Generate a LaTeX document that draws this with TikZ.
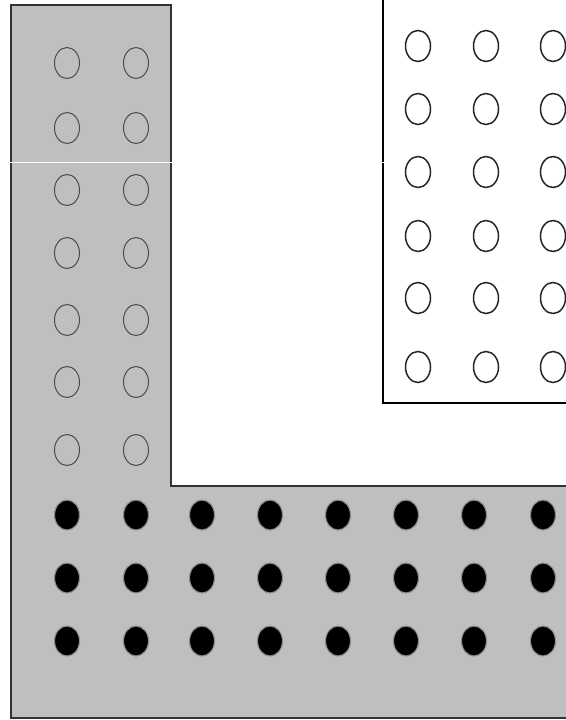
\documentclass[tikz,border=0pt]{standalone}
\begin{document}
\begin{tikzpicture}[x=1pt,y=-1pt,
  lring/.style={draw=black!70,line width=1pt},
  wring/.style={draw=black!85,line width=1.5pt},
  bdot/.style={fill=black,draw=black!45,line width=1.1pt}]
\useasboundingbox (0,0) rectangle (565,720);
\fill[white] (0,0) rectangle (565,720);
% gray L-shaped region
\draw[fill=black!25,draw=black!80,line width=1.3pt]
  (11,5) -- (171,5) -- (171,486) -- (580,486) -- (580,718) -- (11,718) -- cycle;
% white rectangle
\draw[fill=white,draw=black,line width=1.3pt]
  (383,-10) -- (383,403) -- (580,403);
% faint white seam
\draw[white,line width=0.8pt] (0,162) -- (565,162);
% light rings in the gray column
\foreach \y in {63,128,190,253,320,382,450}
  \foreach \x in {67,136}
    \draw[lring] (\x,\y) ellipse [x radius=12.5, y radius=15.5];
% rings in the white box
\foreach \y in {46,109,172,236,298,367}
  \foreach \x in {418,486,553}
    \draw[wring] (\x,\y) ellipse [x radius=12.5, y radius=15.5];
% black dots
\foreach \y in {515,578,641}
  \foreach \x in {67,136,202,270,338,406,474,543}
    \draw[bdot] (\x,\y) ellipse [x radius=12.5, y radius=15];
\end{tikzpicture}
\end{document}
